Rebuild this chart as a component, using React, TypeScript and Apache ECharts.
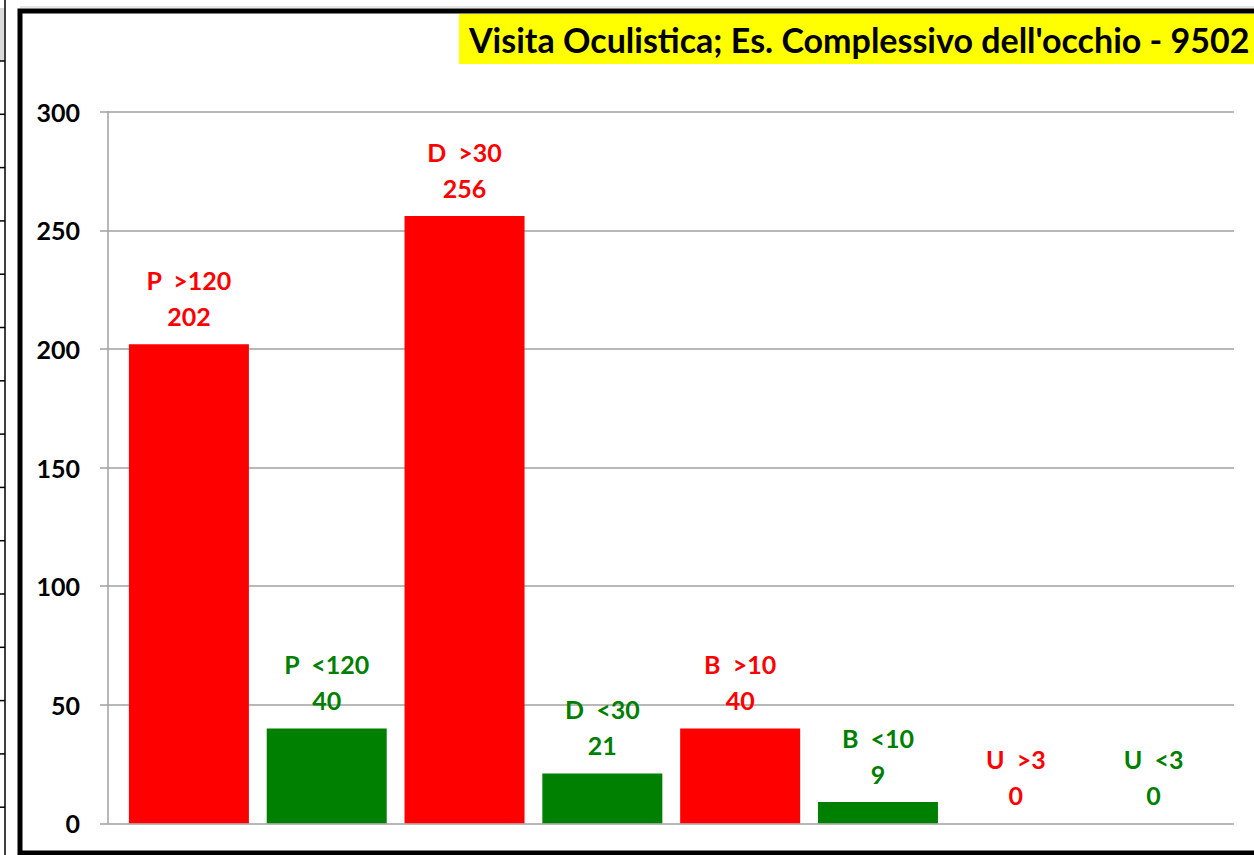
import React, { useEffect, useRef } from "react";
import * as echarts from "echarts";

const categories = ["P  >120", "P  <120", "D  >30", "D  <30", "B  >10", "B  <10", "U  >3", "U  <3"];
const values = [202, 40, 256, 21, 40, 9, 0, 0];
const yTicks = [0, 50, 100, 150, 200, 250, 300];
const titleText = "Visita Oculistica; Es. Complessivo dell'occhio - 9502";

const RED = "#FF0000";
const GREEN = "#008000";
const FONT = "Lato, 'Open Sans', sans-serif";

export default function App() {
  const ref = useRef<HTMLDivElement>(null);
  useEffect(() => {
    if (!ref.current) return;
    const chart = echarts.init(ref.current, null, { renderer: "svg" });
    const yMin = yTicks[0];
    const yMax = yTicks[yTicks.length - 1];
    const yInterval = yTicks[1] - yTicks[0];

    const leftTicks: any[] = [];
    for (let i = 0; i < 15; i++) {
      const y = 61 + i * 53.3;
      leftTicks.push({
        type: "line",
        shape: { x1: 0, y1: y, x2: 5, y2: y },
        style: { stroke: "#000", lineWidth: 1.5 },
      });
    }

    chart.setOption({
      animation: false,
      backgroundColor: "#fff",
      grid: [
        { left: 108, right: 20, top: 111.7, bottom: 31.7 },
        { left: 120, right: 31.5, top: 111.7, bottom: 31.7 },
      ],
      xAxis: [
        { type: "value", gridIndex: 0, show: false, min: 0, max: 1 },
        {
          type: "category",
          gridIndex: 1,
          data: categories,
          show: false,
          boundaryGap: true,
        },
      ],
      yAxis: [
        {
          type: "value",
          gridIndex: 0,
          min: yMin,
          max: yMax,
          interval: yInterval,
          axisLine: { show: true, lineStyle: { color: "#A0A0A0", width: 1.5 } },
          axisTick: { show: true, length: 8, lineStyle: { color: "#A0A0A0", width: 1.5 } },
          splitLine: { show: true, lineStyle: { color: "#A0A0A0", width: 1.5 } },
          axisLabel: {
            color: "#000",
            fontFamily: FONT,
            fontWeight: "bold",
            fontSize: 25,
            margin: 28,
          },
        },
        {
          type: "value",
          gridIndex: 1,
          min: yMin,
          max: yMax,
          interval: yInterval,
          show: false,
          splitLine: { show: false },
        },
      ],
      series: [
        {
          type: "bar",
          xAxisIndex: 1,
          yAxisIndex: 1,
          barWidth: 120,
          data: values.map((v, i) => {
            const c = categories[i].includes(">") ? RED : GREEN;
            return {
              value: v,
              itemStyle: { color: c },
              label: { color: c },
            };
          }),
          label: {
            show: true,
            position: "top",
            distance: 10,
            fontFamily: FONT,
            fontWeight: "bold",
            fontSize: 25,
            lineHeight: 36,
            align: "center",
            formatter: (p: any) => `${p.name}\n${p.value}`,
          },
        },
      ],
      graphic: [
        {
          type: "rect",
          shape: { x: 0, y: 8, width: 4, height: 53 },
          style: { fill: "#D9D9D9" },
          silent: true,
        },
        {
          type: "line",
          shape: { x1: 5, y1: 0, x2: 5, y2: 855 },
          style: { stroke: "#000", lineWidth: 1.5 },
          silent: true,
        },
        ...leftTicks,
        {
          type: "line",
          shape: { x1: 20, y1: 7, x2: 1254, y2: 7 },
          style: { stroke: "#D0D0D0", lineWidth: 1 },
          silent: true,
        },
        {
          type: "rect",
          shape: { x: 20, y: 11, width: 1260, height: 842 },
          style: { fill: "none", stroke: "#000", lineWidth: 5 },
          silent: true,
        },
        {
          type: "rect",
          shape: { x: 459, y: 14, width: 800, height: 50 },
          style: { fill: "#FFFF00" },
          silent: true,
        },
        {
          type: "text",
          x: 469,
          y: 39,
          style: {
            text: titleText,
            fill: "#000",
            font: `bold 34px ${FONT}`,
            verticalAlign: "middle",
            align: "left",
          },
          silent: true,
        },
      ],
    });
    return () => chart.dispose();
  }, []);
  return (
    <div
      ref={ref}
      style={{ position: "fixed", left: 0, top: 0, width: 1254, height: 855 }}
    />
  );
}
